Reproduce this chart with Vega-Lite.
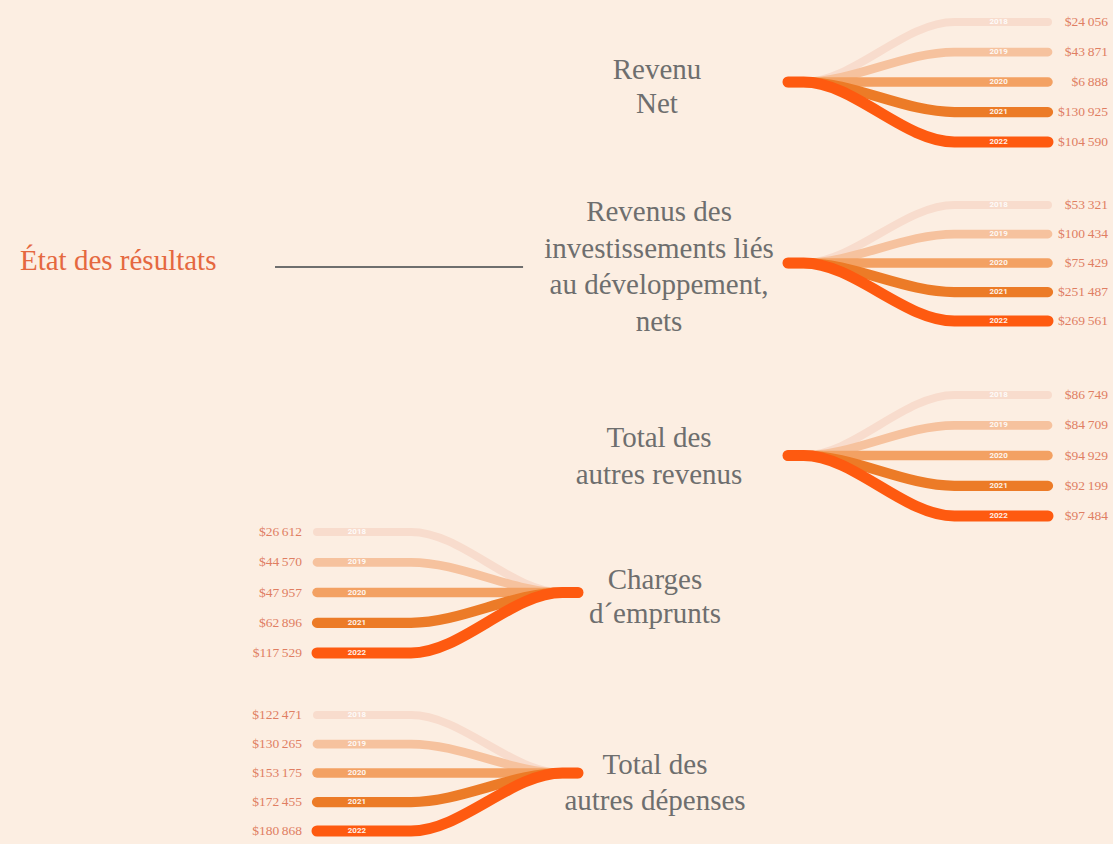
{
  "$schema": "https://vega.github.io/schema/vega-lite/v6.json",
  "background": "#FCEEE2",
  "padding": 0,
  "spacing": 0,
  "bounds": "flush",
  "config": {
    "view": {"stroke": null},
    "locale": {"number": {"decimal": ",", "thousands": "\u202f", "grouping": [3], "currency": ["$", ""]}}
  },
  "datasets": {
    "shape": [
      {"year": 2018, "t": 0, "lane": 2020}, {"year": 2018, "t": 0.06, "lane": 2020}, {"year": 2018, "t": 0.64, "lane": 2018}, {"year": 2018, "t": 1, "lane": 2018},
      {"year": 2019, "t": 0, "lane": 2020}, {"year": 2019, "t": 0.06, "lane": 2020}, {"year": 2019, "t": 0.64, "lane": 2019}, {"year": 2019, "t": 1, "lane": 2019},
      {"year": 2020, "t": 0, "lane": 2020}, {"year": 2020, "t": 0.06, "lane": 2020}, {"year": 2020, "t": 0.64, "lane": 2020}, {"year": 2020, "t": 1, "lane": 2020},
      {"year": 2021, "t": 0, "lane": 2020}, {"year": 2021, "t": 0.06, "lane": 2020}, {"year": 2021, "t": 0.64, "lane": 2021}, {"year": 2021, "t": 1, "lane": 2021},
      {"year": 2022, "t": 0, "lane": 2020}, {"year": 2022, "t": 0.06, "lane": 2020}, {"year": 2022, "t": 0.64, "lane": 2022}, {"year": 2022, "t": 1, "lane": 2022}
    ],
    "vals": [
      {"group": 1, "year": 2018, "value": 24056}, {"group": 1, "year": 2019, "value": 43871}, {"group": 1, "year": 2020, "value": 6888}, {"group": 1, "year": 2021, "value": 130925}, {"group": 1, "year": 2022, "value": 104590},
      {"group": 2, "year": 2018, "value": 53321}, {"group": 2, "year": 2019, "value": 100434}, {"group": 2, "year": 2020, "value": 75429}, {"group": 2, "year": 2021, "value": 251487}, {"group": 2, "year": 2022, "value": 269561},
      {"group": 3, "year": 2018, "value": 86749}, {"group": 3, "year": 2019, "value": 84709}, {"group": 3, "year": 2020, "value": 94929}, {"group": 3, "year": 2021, "value": 92199}, {"group": 3, "year": 2022, "value": 97484},
      {"group": 4, "year": 2018, "value": 26612}, {"group": 4, "year": 2019, "value": 44570}, {"group": 4, "year": 2020, "value": 47957}, {"group": 4, "year": 2021, "value": 62896}, {"group": 4, "year": 2022, "value": 117529},
      {"group": 5, "year": 2018, "value": 122471}, {"group": 5, "year": 2019, "value": 130265}, {"group": 5, "year": 2020, "value": 153175}, {"group": 5, "year": 2021, "value": 172455}, {"group": 5, "year": 2022, "value": 180868}
    ],
    "labels": [
      {"group": 1, "label": "Revenu\nNet"},
      {"group": 2, "label": "Revenus des\ninvestissements liés\nau développement,\nnets"},
      {"group": 3, "label": "Total des\nautres revenus"},
      {"group": 4, "label": "Charges\nd´emprunts"},
      {"group": 5, "label": "Total des\nautres dépenses"},
      {"group": 0, "label": "État des résultats"}
    ]
  },
  "vconcat": [
    {
      "width": 1113, "height": 170,
      "layer": [
        {"data": {"name": "shape"}, "mark": {"type": "line", "interpolate": "monotone", "strokeCap": "round"},
         "encoding": {
           "x": {"field": "t", "type": "quantitative", "scale": {"domain": [0, 1], "range": [788, 1048], "nice": false, "zero": false}, "axis": null},
           "y": {"field": "lane", "type": "ordinal", "scale": {"type": "point", "domain": [2018, 2019, 2020, 2021, 2022], "range": [22, 142], "padding": 0}, "axis": null},
           "color": {"field": "year", "type": "ordinal", "scale": {"domain": [2018, 2019, 2020, 2021, 2022], "range": ["#F8DCCD", "#F6C29E", "#F3A163", "#EC7B27", "#FE5A10"]}, "legend": null},
           "strokeWidth": {"field": "year", "type": "quantitative", "scale": {"domain": [2018, 2022], "range": [8, 11]}, "legend": null},
           "order": {"field": "t", "type": "quantitative"}
         }},
        {"data": {"name": "vals"}, "transform": [{"filter": "datum.group == 1"}],
         "mark": {"type": "text", "font": "Roboto", "fontSize": 8, "fontWeight": "bold", "color": "#FFFFFF", "opacity": 0.9, "baseline": "middle"},
         "encoding": {"x": {"datum": 0.81}, "y": {"field": "year", "type": "ordinal"}, "text": {"field": "year", "type": "nominal"}}},
        {"data": {"name": "vals"}, "transform": [{"filter": "datum.group == 1"}],
         "mark": {"type": "text", "font": "Liberation Serif", "fontSize": 13.5, "color": "#E07E62", "align": "right", "baseline": "middle"},
         "encoding": {"x": {"datum": 1.231}, "y": {"field": "year", "type": "ordinal"}, "text": {"field": "value", "type": "quantitative", "format": "$,.0f"}}},
        {"data": {"name": "labels"}, "transform": [{"filter": "datum.group == 1"}],
         "mark": {"type": "text", "font": "Liberation Serif", "fontSize": 29, "color": "#6E6E6E", "align": "center", "baseline": "middle", "lineBreak": "\n", "lineHeight": 34, "dy": -12},
         "encoding": {"x": {"datum": -0.504}, "y": {"datum": 2020, "type": "ordinal"}, "text": {"field": "label", "type": "nominal"}}}
      ]
    },
    {
      "width": 1113, "height": 190,
      "layer": [
        {"data": {"name": "shape"}, "mark": {"type": "line", "interpolate": "monotone", "strokeCap": "round"},
         "encoding": {
           "x": {"field": "t", "type": "quantitative", "scale": {"domain": [0, 1], "range": [788, 1048], "nice": false, "zero": false}, "axis": null},
           "y": {"field": "lane", "type": "ordinal", "scale": {"type": "point", "domain": [2018, 2019, 2020, 2021, 2022], "range": [35, 151], "padding": 0}, "axis": null},
           "color": {"field": "year", "type": "ordinal", "scale": {"domain": [2018, 2019, 2020, 2021, 2022], "range": ["#F8DCCD", "#F6C29E", "#F3A163", "#EC7B27", "#FE5A10"]}, "legend": null},
           "strokeWidth": {"field": "year", "type": "quantitative", "scale": {"domain": [2018, 2022], "range": [8, 11]}, "legend": null},
           "order": {"field": "t", "type": "quantitative"}
         }},
        {"data": {"name": "vals"}, "transform": [{"filter": "datum.group == 2"}],
         "mark": {"type": "text", "font": "Roboto", "fontSize": 8, "fontWeight": "bold", "color": "#FFFFFF", "opacity": 0.9, "baseline": "middle"},
         "encoding": {"x": {"datum": 0.81}, "y": {"field": "year", "type": "ordinal"}, "text": {"field": "year", "type": "nominal"}}},
        {"data": {"name": "vals"}, "transform": [{"filter": "datum.group == 2"}],
         "mark": {"type": "text", "font": "Liberation Serif", "fontSize": 13.5, "color": "#E07E62", "align": "right", "baseline": "middle"},
         "encoding": {"x": {"datum": 1.231}, "y": {"field": "year", "type": "ordinal"}, "text": {"field": "value", "type": "quantitative", "format": "$,.0f"}}},
        {"data": {"name": "labels"}, "transform": [{"filter": "datum.group == 2"}],
         "mark": {"type": "text", "font": "Liberation Serif", "fontSize": 29, "color": "#6E6E6E", "align": "center", "baseline": "middle", "lineBreak": "\n", "lineHeight": 36.5, "dy": -51},
         "encoding": {"x": {"datum": -0.496}, "y": {"datum": 2020, "type": "ordinal"}, "text": {"field": "label", "type": "nominal"}}},
        {"data": {"name": "labels"}, "transform": [{"filter": "datum.group == 0"}],
         "mark": {"type": "text", "font": "Liberation Serif", "fontSize": 29, "color": "#E5683F", "align": "left", "baseline": "middle", "dy": -2},
         "encoding": {"x": {"datum": -2.954}, "y": {"datum": 2020, "type": "ordinal"}, "text": {"field": "label", "type": "nominal"}}},
        {"data": {"name": "labels"}, "transform": [{"filter": "datum.group == 0"}],
         "mark": {"type": "rule", "color": "#6E6E6E", "strokeWidth": 2, "yOffset": 4},
         "encoding": {"x": {"datum": -1.973}, "x2": {"datum": -1.019}, "y": {"datum": 2020, "type": "ordinal"}}}
      ]
    },
    {
      "width": 1113, "height": 165,
      "layer": [
        {"data": {"name": "shape"}, "mark": {"type": "line", "interpolate": "monotone", "strokeCap": "round"},
         "encoding": {
           "x": {"field": "t", "type": "quantitative", "scale": {"domain": [0, 1], "range": [788, 1048], "nice": false, "zero": false}, "axis": null},
           "y": {"field": "lane", "type": "ordinal", "scale": {"type": "point", "domain": [2018, 2019, 2020, 2021, 2022], "range": [35, 156], "padding": 0}, "axis": null},
           "color": {"field": "year", "type": "ordinal", "scale": {"domain": [2018, 2019, 2020, 2021, 2022], "range": ["#F8DCCD", "#F6C29E", "#F3A163", "#EC7B27", "#FE5A10"]}, "legend": null},
           "strokeWidth": {"field": "year", "type": "quantitative", "scale": {"domain": [2018, 2022], "range": [8, 11]}, "legend": null},
           "order": {"field": "t", "type": "quantitative"}
         }},
        {"data": {"name": "vals"}, "transform": [{"filter": "datum.group == 3"}],
         "mark": {"type": "text", "font": "Roboto", "fontSize": 8, "fontWeight": "bold", "color": "#FFFFFF", "opacity": 0.9, "baseline": "middle"},
         "encoding": {"x": {"datum": 0.81}, "y": {"field": "year", "type": "ordinal"}, "text": {"field": "year", "type": "nominal"}}},
        {"data": {"name": "vals"}, "transform": [{"filter": "datum.group == 3"}],
         "mark": {"type": "text", "font": "Liberation Serif", "fontSize": 13.5, "color": "#E07E62", "align": "right", "baseline": "middle"},
         "encoding": {"x": {"datum": 1.231}, "y": {"field": "year", "type": "ordinal"}, "text": {"field": "value", "type": "quantitative", "format": "$,.0f"}}},
        {"data": {"name": "labels"}, "transform": [{"filter": "datum.group == 3"}],
         "mark": {"type": "text", "font": "Liberation Serif", "fontSize": 29, "color": "#6E6E6E", "align": "center", "baseline": "middle", "lineBreak": "\n", "lineHeight": 37, "dy": -18},
         "encoding": {"x": {"datum": -0.496}, "y": {"datum": 2020, "type": "ordinal"}, "text": {"field": "label", "type": "nominal"}}}
      ]
    },
    {
      "width": 1113, "height": 165,
      "layer": [
        {"data": {"name": "shape"}, "mark": {"type": "line", "interpolate": "monotone", "strokeCap": "round"},
         "encoding": {
           "x": {"field": "t", "type": "quantitative", "scale": {"domain": [0, 1], "range": [578, 317], "nice": false, "zero": false}, "axis": null},
           "y": {"field": "lane", "type": "ordinal", "scale": {"type": "point", "domain": [2018, 2019, 2020, 2021, 2022], "range": [7, 128], "padding": 0}, "axis": null},
           "color": {"field": "year", "type": "ordinal", "scale": {"domain": [2018, 2019, 2020, 2021, 2022], "range": ["#F8DCCD", "#F6C29E", "#F3A163", "#EC7B27", "#FE5A10"]}, "legend": null},
           "strokeWidth": {"field": "year", "type": "quantitative", "scale": {"domain": [2018, 2022], "range": [8, 11]}, "legend": null},
           "order": {"field": "t", "type": "quantitative", "sort": "descending"}
         }},
        {"data": {"name": "vals"}, "transform": [{"filter": "datum.group == 4"}],
         "mark": {"type": "text", "font": "Roboto", "fontSize": 8, "fontWeight": "bold", "color": "#FFFFFF", "opacity": 0.9, "baseline": "middle"},
         "encoding": {"x": {"datum": 0.847}, "y": {"field": "year", "type": "ordinal"}, "text": {"field": "year", "type": "nominal"}}},
        {"data": {"name": "vals"}, "transform": [{"filter": "datum.group == 4"}],
         "mark": {"type": "text", "font": "Liberation Serif", "fontSize": 13.5, "color": "#E07E62", "align": "right", "baseline": "middle"},
         "encoding": {"x": {"datum": 1.057}, "y": {"field": "year", "type": "ordinal"}, "text": {"field": "value", "type": "quantitative", "format": "$,.0f"}}},
        {"data": {"name": "labels"}, "transform": [{"filter": "datum.group == 4"}],
         "mark": {"type": "text", "font": "Liberation Serif", "fontSize": 29, "color": "#6E6E6E", "align": "center", "baseline": "middle", "lineBreak": "\n", "lineHeight": 34, "dy": -13},
         "encoding": {"x": {"datum": -0.295}, "y": {"datum": 2020, "type": "ordinal"}, "text": {"field": "label", "type": "nominal"}}}
      ]
    },
    {
      "width": 1113, "height": 154,
      "layer": [
        {"data": {"name": "shape"}, "mark": {"type": "line", "interpolate": "monotone", "strokeCap": "round"},
         "encoding": {
           "x": {"field": "t", "type": "quantitative", "scale": {"domain": [0, 1], "range": [578, 317], "nice": false, "zero": false}, "axis": null},
           "y": {"field": "lane", "type": "ordinal", "scale": {"type": "point", "domain": [2018, 2019, 2020, 2021, 2022], "range": [25, 141], "padding": 0}, "axis": null},
           "color": {"field": "year", "type": "ordinal", "scale": {"domain": [2018, 2019, 2020, 2021, 2022], "range": ["#F8DCCD", "#F6C29E", "#F3A163", "#EC7B27", "#FE5A10"]}, "legend": null},
           "strokeWidth": {"field": "year", "type": "quantitative", "scale": {"domain": [2018, 2022], "range": [8, 11]}, "legend": null},
           "order": {"field": "t", "type": "quantitative", "sort": "descending"}
         }},
        {"data": {"name": "vals"}, "transform": [{"filter": "datum.group == 5"}],
         "mark": {"type": "text", "font": "Roboto", "fontSize": 8, "fontWeight": "bold", "color": "#FFFFFF", "opacity": 0.9, "baseline": "middle"},
         "encoding": {"x": {"datum": 0.847}, "y": {"field": "year", "type": "ordinal"}, "text": {"field": "year", "type": "nominal"}}},
        {"data": {"name": "vals"}, "transform": [{"filter": "datum.group == 5"}],
         "mark": {"type": "text", "font": "Liberation Serif", "fontSize": 13.5, "color": "#E07E62", "align": "right", "baseline": "middle"},
         "encoding": {"x": {"datum": 1.057}, "y": {"field": "year", "type": "ordinal"}, "text": {"field": "value", "type": "quantitative", "format": "$,.0f"}}},
        {"data": {"name": "labels"}, "transform": [{"filter": "datum.group == 5"}],
         "mark": {"type": "text", "font": "Liberation Serif", "fontSize": 29, "color": "#6E6E6E", "align": "center", "baseline": "middle", "lineBreak": "\n", "lineHeight": 36, "dy": -8},
         "encoding": {"x": {"datum": -0.295}, "y": {"datum": 2020, "type": "ordinal"}, "text": {"field": "label", "type": "nominal"}}}
      ]
    }
  ]
}
